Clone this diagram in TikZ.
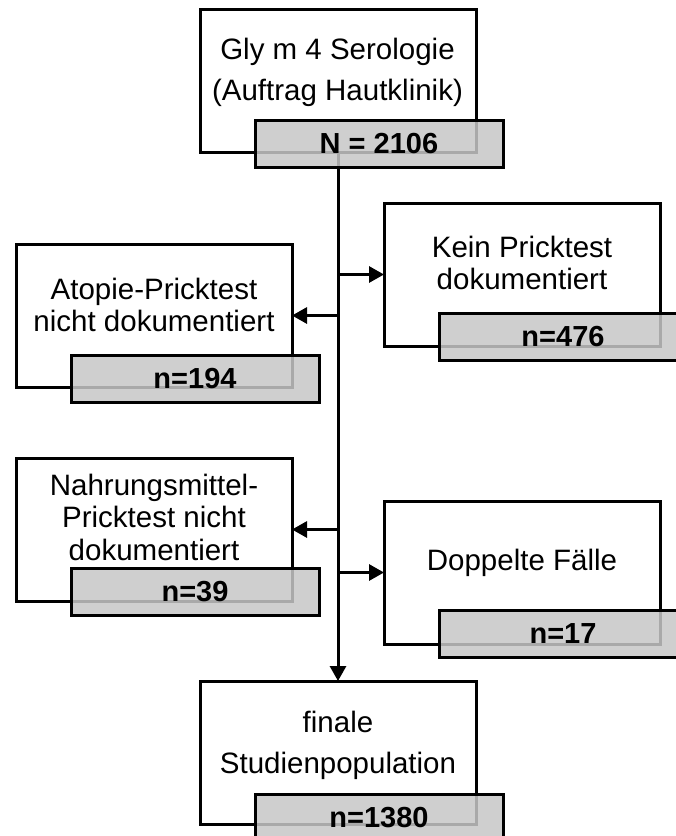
\documentclass[tikz,border=0pt]{standalone}
\usepackage{fontspec}
\setmainfont{Liberation Sans}
\usetikzlibrary{arrows.meta}
\definecolor{gfill}{gray}{0.78}
\begin{document}
\begin{tikzpicture}[x=1pt,y=1pt,
  wbox/.style={draw,line width=3pt,fill=white,minimum width=276pt,minimum height=143pt,inner sep=0pt,outer sep=0pt,anchor=north west},
  gbox/.style={draw,line width=3pt,fill=gfill,fill opacity=0.85,draw opacity=1,text opacity=1,minimum width=248pt,minimum height=47pt,inner sep=0pt,outer sep=0pt,anchor=north west,font=\fontsize{29}{32}\selectfont\bfseries},
  txt/.style={align=center,inner sep=0pt,font=\fontsize{29.5}{32.5}\selectfont},
  txtwide/.style={align=center,inner sep=0pt,font=\fontsize{29.5}{41}\selectfont},
  conn/.style={line width=3pt},
  arr/.style={line width=3pt,-{Triangle[length=15pt,width=16pt]}}]
\clip (0,0) rectangle (676,-836);
\fill[white] (0,0) rectangle (676,-836);
% white boxes
\node[wbox] (b1) at (200,-9) {};
\node[wbox] (a1) at (16,-244) {};
\node[wbox] (k1) at (384,-203) {};
\node[wbox] (n1) at (16,-458) {};
\node[wbox] (d1) at (384,-501) {};
\node[wbox] (f1) at (200,-681) {};
% texts
\node[txtwide] (t1) at (337.5,-72) {Gly m 4 Serologie\\(Auftrag Hautklinik)};
\node[txt] (ta) at (154,-305) {Atopie-Pricktest\\nicht dokumentiert};
\node[txt] (tk) at (522,-263) {Kein Pricktest\\dokumentiert};
\node[txt] (tn) at (154,-517) {Nahrungsmittel-\\Pricktest nicht\\dokumentiert};
\node[txt] (td) at (522,-563) {Doppelte Fälle};
\node[txtwide] (tf) at (338,-745) {finale\\Studienpopulation};
% connectors
\draw[arr] (b1.south) -- (f1.north);
\draw[arr] (b1.south |- k1.west) -- (k1.west);
\draw[arr] (b1.south |- a1.east) -- (a1.east);
\draw[arr] (b1.south |- n1.east) -- (n1.east);
\draw[arr] (b1.south |- d1.west) -- (d1.west);
% gray count boxes
\node[gbox] (g1) at (255,-120) {N = 2106};
\node[gbox] (ga) at (71,-355) {n=194};
\node[gbox] (gk) at (439,-313) {n=476};
\node[gbox] (gn) at (71,-568) {n=39};
\node[gbox] (gd) at (439,-610) {n=17};
\node[gbox] (gf) at (255,-794) {n=1380};
\end{tikzpicture}
\end{document}
